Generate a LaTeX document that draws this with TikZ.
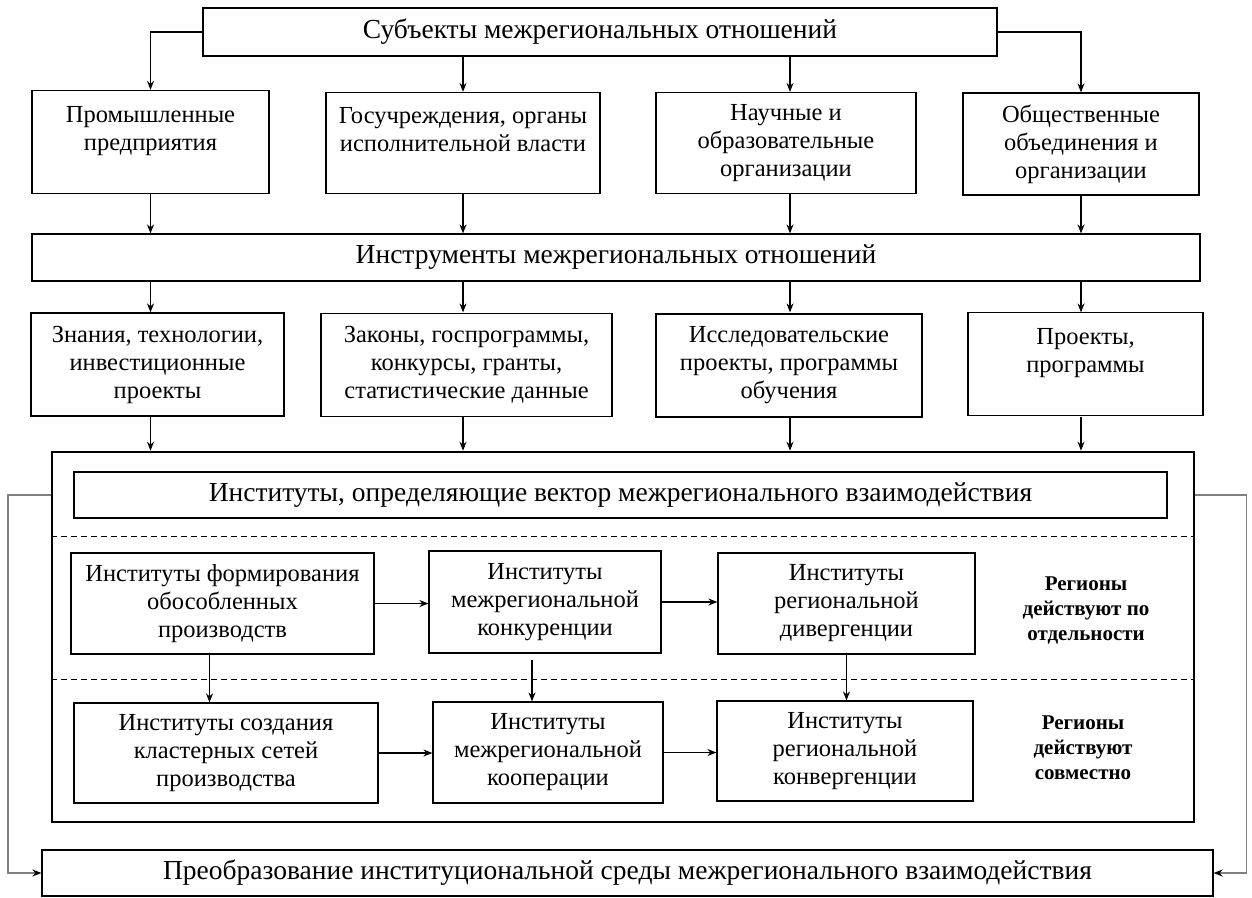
\documentclass[tikz,border=0pt]{standalone}
\usepackage{fontspec}
\setmainfont{Liberation Serif}
\usetikzlibrary{positioning}
\usetikzlibrary{arrows.meta}

\begin{document}
\begin{tikzpicture}[x=1pt, y=-1pt, >={Stealth[length=9pt,width=7pt]},
    box/.style={draw, line width=1.2pt, align=center, inner sep=2pt, font=\fontsize{24.5}{28}\selectfont},
    headbox/.style={box, font=\fontsize{27.5}{30}\selectfont},
    link/.style={->, line width=1.2pt},
    back/.style={-{Stealth[length=9pt,width=7pt,color=black]}, line width=1.6pt, draw=black!50},
    note/.style={align=center, font=\bfseries\fontsize{21}{25}\selectfont}]
        \useasboundingbox (0,0) rectangle (1252,897);

        % Субъекты
        \node[headbox, minimum width=794, minimum height=48] (subj) at (600,32) {Субъекты межрегиональных отношений};
        \node[box, minimum width=237, minimum height=103] (s1) at (150.5,142) {Промышленные\\предприятия\\~};
        \node[box, minimum width=274, minimum height=101] (s2) at (463,143) {Госучреждения, органы\\исполнительной власти\\~};
        \node[box, minimum width=260, minimum height=101] (s3) at (786,143) {Научные и\\образовательные\\организации};
        \node[box, minimum width=236, minimum height=102] (s4) at (1081,144) {Общественные\\объединения и\\организации};

        % Инструменты
        \node[headbox, minimum width=1168, minimum height=47] (instr) at (616,257.5) {Инструменты межрегиональных отношений};
        \node[box, minimum width=253, minimum height=103] (t1) at (157.5,364.5) {Знания, технологии,\\инвестиционные\\проекты};
        \node[box, minimum width=291, minimum height=103] (t2) at (466.5,365) {Законы, госпрограммы,\\конкурсы, гранты,\\статистические данные};
        \node[box, minimum width=266, minimum height=103] (t3) at (789,365.5) {Исследовательские\\проекты, программы\\обучения};
        \node[box, minimum width=235, minimum height=103] (t4) at (1085.5,364) {Проекты,\\программы\\~};

        % Институты
        \node[draw, line width=2.6pt, minimum width=1142, minimum height=370] (frame) at (623,637) {};
        \node[headbox, minimum width=1093, minimum height=46] (inst) at (620.5,495) {Институты, определяющие вектор межрегионального взаимодействия};
        \draw[dashed, line width=0.9pt, dash pattern=on 6pt off 4pt] (frame.west |- 0,536) -- (frame.east |- 0,536);
        \draw[dashed, line width=0.9pt, dash pattern=on 6pt off 4pt] (frame.west |- 0,679) -- (frame.east |- 0,679);

        % по отдельности
        \node[box, minimum width=303, minimum height=101] (a1) at (222.5,603.5) {Институты формирования\\обособленных\\производств};
        \node[box, minimum width=232, minimum height=102] (a2) at (545,602) {Институты\\межрегиональной\\конкуренции};
        \node[box, minimum width=257, minimum height=101] (a3) at (846.5,603.5) {Институты\\региональной\\дивергенции};
        \node[note] (r1) at (1086,610) {Регионы\\действуют по\\отдельности};

        % совместно
        \node[box, minimum width=304, minimum height=100] (b1) at (226,753) {Институты создания\\кластерных сетей\\производства};
        \node[box, minimum width=230, minimum height=101] (b2) at (548,752.5) {Институты\\межрегиональной\\кооперации};
        \node[box, minimum width=256, minimum height=100] (b3) at (845,751) {Институты\\региональной\\конвергенции};
        \node[note] (r2) at (1083,748) {Регионы\\действуют\\совместно};

        % Преобразование
        \node[headbox, minimum width=1171, minimum height=46] (trans) at (627.5,873) {Преобразование институциональной среды межрегионального взаимодействия};

        % стрелки сверху вниз
        \draw[link] (subj.west) -| (s1.north);
        \draw[link] (subj.east) -| (s4.north);
        \draw[link] (s2.north |- subj.south) -- (s2.north);
        \draw[link] ([xshift=4pt]s3.north |- subj.south) -- ([xshift=4pt]s3.north);
        \foreach \s in {s1,s2,s4} {
            \draw[link] (\s.south) -- (\s.south |- instr.north);
            \draw[link] (instr.south -| \s) -- (t1.north -| \s);
            \draw[link] (t1.south -| \s) -- (frame.north -| \s);
        }
        \draw[link] ([xshift=4pt]s3.south) -- ([xshift=4pt]s3.south |- instr.north);
        \draw[link] ([xshift=4pt]instr.south -| s3) -- ([xshift=4pt]t1.north -| s3);
        \draw[link] ([xshift=4pt]t1.south -| s3) -- ([xshift=4pt]frame.north -| s3);

        % внутри рамки
        \draw[link] (a1.east) -- (a1.east -| a2.west);
        \draw[link] (a2.east) -- (a2.east -| a3.west);
        \draw[link] (b1.east) -- (b1.east -| b2.west);
        \draw[link] (b2.east) -- (b2.east -| b3.west);
        \draw[link] ([xshift=-13pt]a1.south) -- ([xshift=-13pt]a1.south |- b1.north);
        \draw[link] ([xshift=-13pt,yshift=-6pt]a2.south) -- ([xshift=-13pt]a2.south |- b2.north);
        \draw[link] (a3.south) -- (a3.south |- b3.north);

        % обратная связь
        \draw[back] (frame.west |- inst) -- ++(-43,0) |- (trans.west);
        \draw[back] (frame.east |- inst) -- ++(51,0) |- (trans.east);

    \end{tikzpicture}
\end{document}
